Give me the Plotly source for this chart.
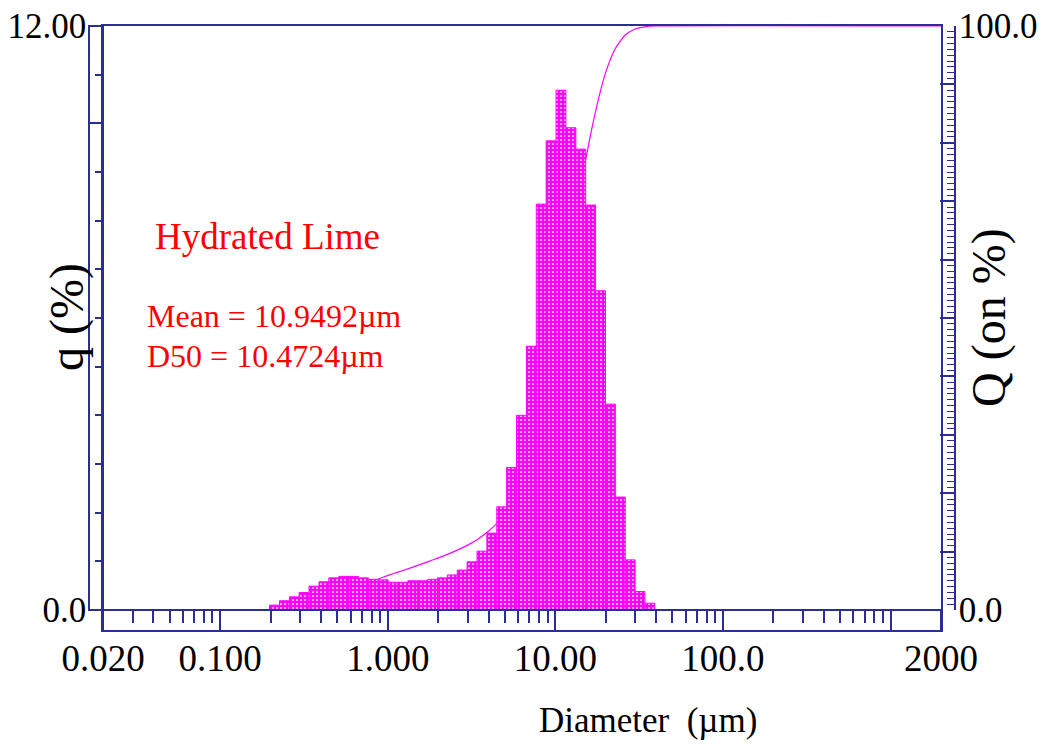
import numpy as np
import plotly.graph_objects as go

# ---------------- data ----------------
# particle-size class edges (µm), Horiba-type logarithmic classes
size_edges = [0.197, 0.226, 0.259, 0.296, 0.339, 0.389, 0.445, 0.510, 0.584, 0.669,
              0.766, 0.877, 1.005, 1.151, 1.318, 1.510, 1.729, 1.981, 2.269, 2.599,
              2.976, 3.409, 3.905, 4.472, 5.122, 5.867, 6.720, 7.697, 8.816, 10.097,
              11.565, 13.246, 15.172, 17.377, 19.904, 22.797, 26.111, 29.907, 34.255, 39.234]

# frequency q (%) for each class (39 classes)
q_percent = [0.10, 0.19, 0.27, 0.36, 0.49, 0.58, 0.66, 0.69, 0.69, 0.66,
             0.63, 0.62, 0.57, 0.57, 0.60, 0.60, 0.63, 0.66, 0.72, 0.82,
             0.99, 1.21, 1.58, 2.12, 2.93, 4.00, 5.42, 8.34, 9.64, 10.68,
             9.91, 9.47, 8.32, 6.56, 4.23, 2.32, 1.03, 0.38, 0.14]

# cumulative Q (%), at the class edges, then to the axis end
Q_sizes = size_edges + [2000.0]
Q_percent = [0.0, 0.10, 0.29, 0.56, 0.92, 1.40, 1.98, 2.64, 3.33, 4.01,
             4.67, 5.30, 5.92, 6.49, 7.05, 7.65, 8.25, 8.88, 9.53, 10.25,
             11.07, 12.05, 13.26, 14.83, 16.95, 19.86, 23.85, 29.25, 37.56, 47.16,
             57.80, 67.67, 77.11, 85.39, 91.93, 96.14, 98.45, 99.48, 99.86, 100.0,
             100.0]

x_tick_vals = [0.02, 0.1, 1, 10, 100, 1000, 2000]
x_tick_text = ["0.020", "0.100", "1.000", "10.00", "100.0", "", "2000"]
q_tick_vals = [0, 10, 12]
q_tick_text = ["0.0", "", "12.00"]
Q_tick_vals = [0, 10, 20, 30, 40, 50, 60, 70, 80, 90, 100]
Q_tick_text = ["0.0", "", "", "", "", "", "", "", "", "", "100.0"]

# ---------------- style / geometry ----------------
W, H = 1044, 748
ML, MR, MT, MB = 89, 89, 26, 118
PW, PH = W - ML - MR, H - MT - MB
FX0, FX1 = 14 / PW, (PW - 14) / PW          # inner frame left/right
BASE = 20 / PH                               # q = 0 level above frame bottom
NAVY = "#2d2d96"
MAG = "#ff00ff"
SERIF = "Liberation Serif"

minor_x = [m * 10.0 ** e for e in range(-2, 3) for m in range(2, 10) if m * 10.0 ** e > 0.021]
minor_q = [v for v in range(1, 12) if v != 10]
minor_Q = [v for v in range(1, 100) if v % 10]

fig = go.Figure()

# cumulative curve (drawn beneath the bars)
fig.add_trace(go.Scatter(
    x=Q_sizes, y=Q_percent, mode="lines", xaxis="x", yaxis="y",
    line=dict(color=MAG, width=1.2, shape="spline", smoothing=0.6),
    hoverinfo="skip", showlegend=False))

# histogram bars, one filled polygon per class
for i, qv in enumerate(q_percent):
    lo, hi = size_edges[i], size_edges[i + 1]
    fig.add_trace(go.Scatter(
        x=[lo, lo, hi, hi, lo], y=[0, qv, qv, 0, 0], mode="lines",
        xaxis="x", yaxis="y2", fill="toself", fillcolor=MAG,
        fillpattern=dict(shape=".", fgcolor="#ffffff", bgcolor=MAG, fgopacity=0.85,
                         size=4, solidity=0.22),
        line=dict(color=MAG, width=1), hoverinfo="skip", showlegend=False))

# dummy traces to create the frame / outer-line axes
fig.add_trace(go.Scatter(x=[None], y=[None], xaxis="x2", yaxis="y4",
                         hoverinfo="skip", showlegend=False))
fig.add_trace(go.Scatter(x=[None], y=[None], xaxis="x", yaxis="y3",
                         hoverinfo="skip", showlegend=False))

axis_common = dict(showgrid=False, zeroline=False, linecolor=NAVY, linewidth=1.5,
                   tickcolor=NAVY, tickwidth=1.5, automargin=False)
tickfont = dict(family=SERIF, size=35, color="black")

fig.update_layout(
    width=W, height=H, autosize=False,
    margin=dict(l=ML, r=MR, t=MT, b=MB, pad=0, autoexpand=False),
    paper_bgcolor="white", plot_bgcolor="rgba(0,0,0,0)",
    showlegend=False,
    xaxis=dict(type="log", range=[np.log10(0.02), np.log10(2000)], domain=[FX0, FX1],
               anchor="free", position=BASE, showline=True, ticks="outside", ticklen=20,
               tickmode="array", tickvals=x_tick_vals, ticktext=x_tick_text,
               tickfont=dict(family=SERIF, size=37, color="black"), ticklabelstandoff=-4,
               minor=dict(tickvals=minor_x, ticks="outside", ticklen=12,
                          tickcolor=NAVY, tickwidth=1.5, showgrid=False),
               **axis_common),
    yaxis=dict(range=[0, 100], domain=[BASE, 1], side="right", anchor="free", position=1,
               showline=True, ticks="inside", ticklen=14, tickmode="array",
               tickvals=Q_tick_vals, ticktext=Q_tick_text, tickfont=tickfont,
               ticklabelstandoff=-4,
               minor=dict(tickvals=minor_Q, ticks="inside", ticklen=7,
                          tickcolor=NAVY, tickwidth=1.2, showgrid=False),
               **axis_common),
    yaxis2=dict(range=[0, 12], overlaying="y", side="left", anchor="free", position=FX0,
                showline=True, ticks="outside", ticklen=14, tickmode="array",
                tickvals=q_tick_vals, ticktext=q_tick_text, tickfont=tickfont,
                ticklabelstandoff=-5,
                minor=dict(tickvals=minor_q, ticks="outside", ticklen=7,
                           tickcolor=NAVY, tickwidth=1.5, showgrid=False),
                **axis_common),
    yaxis3=dict(range=[0, 1], overlaying="y", side="left", anchor="free", position=0,
                showline=True, ticks="", showticklabels=False, **axis_common),
    xaxis2=dict(range=[0, 1], domain=[FX0, FX1], anchor="y4", showline=True, mirror=True,
                ticks="", showticklabels=False, **axis_common),
    yaxis4=dict(range=[0, 1], domain=[0, 1], anchor="x2", showline=True, mirror=True,
                ticks="", showticklabels=False, **axis_common),
)


def px(x):
    return (x - ML) / PW


def py(y):
    return (MT + PH - y) / PH


annots = [
    dict(text="q (%)", x=px(67), y=py(317), textangle=-90, size=48, color="black",
         xanchor="center"),
    dict(text="Q (on %)", x=px(989), y=py(318), textangle=-90, size=48, color="black",
         xanchor="center"),
    dict(text="Diameter  (µm)", x=px(648), y=py(720), textangle=0, size=35, color="black",
         xanchor="center"),
    dict(text="Hydrated Lime", x=px(153), y=py(236), textangle=0, size=37, color="#ff0000",
         xanchor="left"),
    dict(text="Mean = 10.9492µm", x=px(145), y=py(316), textangle=0, size=32,
         color="#ff0000", xanchor="left"),
    dict(text="D50 = 10.4724µm", x=px(145), y=py(356), textangle=0, size=32,
         color="#ff0000", xanchor="left"),
]
for a in annots:
    fig.add_annotation(text=a["text"], x=a["x"], y=a["y"], xref="paper", yref="paper",
                       showarrow=False, textangle=a["textangle"], xanchor=a["xanchor"],
                       yanchor="middle",
                       font=dict(family=SERIF, size=a["size"], color=a["color"]))

fig.write_html("out.html")
